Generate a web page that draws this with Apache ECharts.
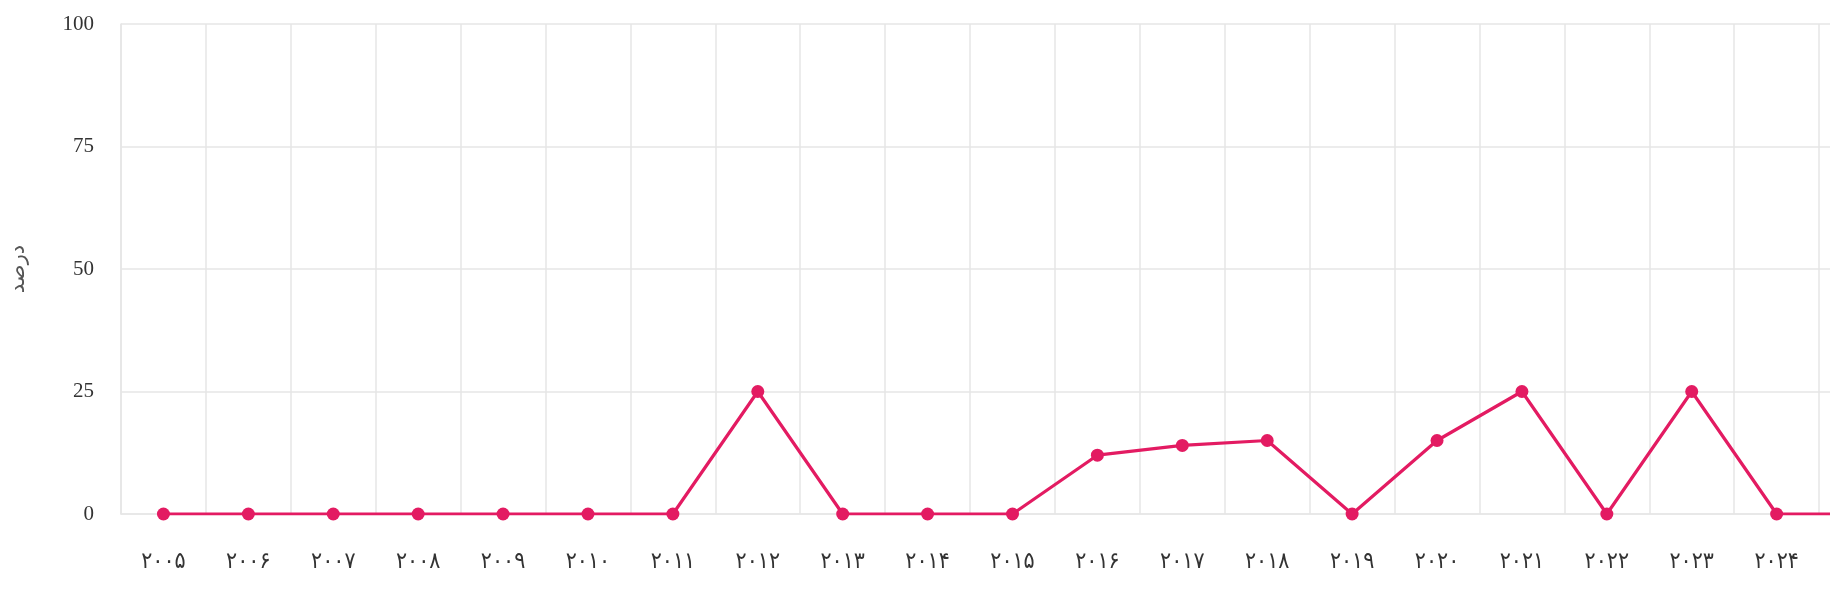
<!DOCTYPE html>
<html>
<head>
<meta charset="utf-8">
<script src="https://cdn.jsdelivr.net/npm/echarts@6/dist/echarts.min.js"></script>
<style>
html,body{margin:0;padding:0;background:#fff;overflow:hidden;width:1830px;height:616px;}
#chart{width:1904px;height:616px;}
</style>
</head>
<body>
<div id="chart"></div>
<script>
var categories = ['۲۰۰۵','۲۰۰۶','۲۰۰۷','۲۰۰۸','۲۰۰۹','۲۰۱۰','۲۰۱۱','۲۰۱۲','۲۰۱۳','۲۰۱۴','۲۰۱۵','۲۰۱۶','۲۰۱۷','۲۰۱۸','۲۰۱۹','۲۰۲۰','۲۰۲۱','۲۰۲۲','۲۰۲۳','۲۰۲۴','۲۰۲۵'];
var values = [0,0,0,0,0,0,0,25,0,0,0,12,14,15,0,15,25,0,25,0,0];
var yAxisName = 'درصد';

var chart = echarts.init(document.getElementById('chart'), null, {renderer:'canvas'});
chart.setOption({
  animation:false,
  backgroundColor:'#ffffff',
  grid:{left:121, right:0, top:24, bottom:102, containLabel:false},
  xAxis:{
    type:'category',
    data:categories,
    boundaryGap:true,
    axisLine:{show:true, lineStyle:{color:'#e6e6e6', width:1.5}},
    axisTick:{show:false},
    axisLabel:{color:'#333', fontFamily:'"DejaVu Sans Condensed", "DejaVu Sans"', fontSize:23, margin:37, interval:0},
    splitLine:{show:true, lineStyle:{color:'#e6e6e6', width:1.5}}
  },
  yAxis:{
    type:'value',
    min:0, max:100, interval:25,
    name:yAxisName,
    nameLocation:'middle',
    nameGap:92,
    nameRotate:90,
    nameTextStyle:{color:'#555', fontFamily:'DejaVu Sans', fontSize:21},
    axisLine:{show:true, lineStyle:{color:'#e6e6e6', width:1.5}},
    axisTick:{show:false},
    axisLabel:{color:'#333', fontFamily:'Liberation Serif', fontSize:21, margin:27},
    splitLine:{show:true, lineStyle:{color:'#e6e6e6', width:1.5}}
  },
  series:[{
    type:'line',
    data:values,
    symbol:'circle',
    symbolSize:13,
    showAllSymbol:true,
    lineStyle:{color:'#e31b62', width:3.2},
    itemStyle:{color:'#e31b62'}
  }]
});
</script>
</body>
</html>
